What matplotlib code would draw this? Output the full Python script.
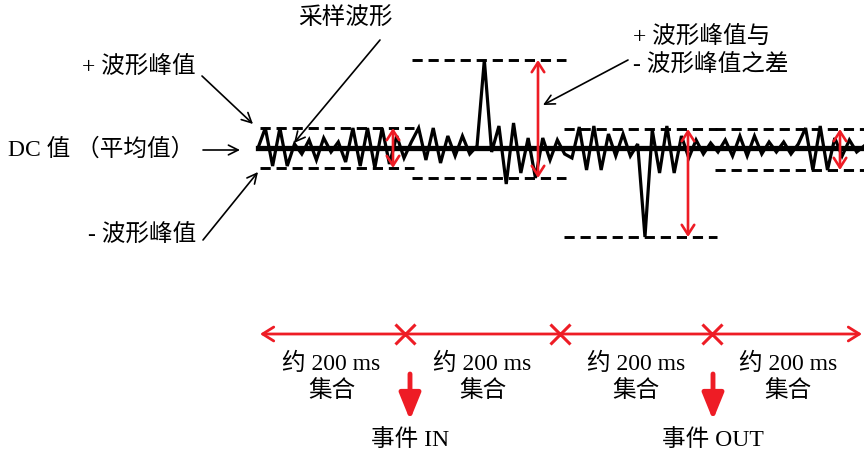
import numpy as np
import matplotlib.pyplot as plt

plt.rcParams['font.family'] = ['Liberation Serif', 'Noto Sans CJK SC', 'DejaVu Sans']

# waveform amplitude (pixels above the DC line), four ~200 ms blocks
seg1 = [0, 20, -18, 20, -18, 4, -6, 8, -12, 10, -4, 6, -14, 20, -18, 20, -20, 20, -16, 12, -10, 6]
seg2 = [20, -12, 20, -15, 12, -8, 12, -6, 2, 88, -4, 22, -36, 25, -25, 10, -30, 10, -12, 8, -6]
seg3 = [-10, 21, -22, 22, -22, 14, -8, 14, -8, 4, -89, 18, -25, 22, -25, 12, -10, 8, -6, 5, -4]
seg4 = [8, -8, 12, -8, 12, -6, 6, -4, 6, -6, 4, 20, -22, 22, -22, 10, -8, 8, -4, 2]
wave = np.array(seg1 + seg2 + seg3 + seg4, dtype=float)

# per-block peak levels and where the red span arrows sit
block_edges = [258, 410, 562, 713, 864]
pos_peak = [20, 88, 19, 19]
neg_peak = [-20, -30, -89, -22]
span_x = [393, 538, 688, 840]

# time axis
tick_x = [405, 560, 712]
block_line1 = ['约 200 ms'] * 4
block_line2 = ['集合'] * 4
event_x = [410, 713]
event_label = ['事件 IN', '事件 OUT']

DC_Y = 148
W, H = 864, 454

fig = plt.figure(figsize=(W / 100, H / 100), dpi=100)
ax = fig.add_axes([0, 0, 1, 1])
ax.set_xlim(0, W)
ax.set_ylim(H, 0)
ax.axis('off')

# waveform + DC line
xs = np.linspace(block_edges[0], block_edges[-1], len(wave))
ax.plot(xs, DC_Y - wave, color='black', lw=2.3, solid_joinstyle='miter', zorder=3)
ax.plot([block_edges[0], block_edges[-1]], [DC_Y, DC_Y], color='black', lw=3.8, zorder=4)

# peak dashed lines and red span arrows
for i in range(4):
    x0, x1 = block_edges[i], block_edges[i + 1]
    for lvl in (pos_peak[i], neg_peak[i]):
        ax.plot([x0 + 2, x1 + 4], [DC_Y - lvl, DC_Y - lvl], color='black', lw=2.1,
                dashes=(3.5, 2), zorder=2)
    ax.annotate('', xy=(span_x[i], DC_Y - pos_peak[i]), xytext=(span_x[i], DC_Y - neg_peak[i]),
                arrowprops=dict(arrowstyle='<->,head_length=0.7,head_width=0.45',
                                color='#ee1c25', lw=1.9, shrinkA=0, shrinkB=0), zorder=5)

# black callouts
arrow_kw = dict(arrowstyle='->,head_length=0.7,head_width=0.35', color='black', lw=1.2,
                shrinkA=0, shrinkB=0)
fs = 17
ax.text(196, 68, '+ 波形峰值', ha='right', va='center', fontsize=fs)
ax.annotate('', xy=(253, 124), xytext=(202, 76), arrowprops=arrow_kw)
ax.text(8, 149, 'DC 值 （平均值）', ha='left', va='center', fontsize=fs)
ax.annotate('', xy=(240, 150), xytext=(203, 150), arrowprops=arrow_kw)
ax.text(196, 236, '- 波形峰值', ha='right', va='center', fontsize=fs)
ax.annotate('', xy=(258, 172), xytext=(203, 240), arrowprops=arrow_kw)
ax.text(345, 19, '采样波形', ha='center', va='center', fontsize=fs)
ax.annotate('', xy=(294, 143), xytext=(380, 40), arrowprops=arrow_kw)
ax.text(633, 38, '+ 波形峰值与', ha='left', va='center', fontsize=fs)
ax.text(633, 66, '- 波形峰值之差', ha='left', va='center', fontsize=fs)
ax.annotate('', xy=(543, 105), xytext=(628, 60), arrowprops=arrow_kw)

# time axis with block marks
TL_Y = 334
ax.annotate('', xy=(block_edges[0] + 2, TL_Y), xytext=(block_edges[-1] - 2, TL_Y),
            arrowprops=dict(arrowstyle='<->,head_length=0.8,head_width=0.5',
                            color='#ee1c25', lw=2, shrinkA=0, shrinkB=0))
ax.plot(tick_x, [TL_Y] * len(tick_x), linestyle='none', marker='x', markersize=14,
        mew=2.2, color='#ee1c25')
centers = [(a + b) / 2 for a, b in zip([block_edges[0]] + tick_x, tick_x + [block_edges[-1]])]
for cx, l1, l2 in zip(centers, block_line1, block_line2):
    ax.text(cx, 364, l1, ha='center', va='center', fontsize=fs)
    ax.text(cx, 391, l2, ha='center', va='center', fontsize=fs)

for ex, lab in zip(event_x, event_label):
    ax.annotate('', xy=(ex, 420), xytext=(ex, 374),
                arrowprops=dict(arrowstyle='-|>,head_length=1.6,head_width=0.65',
                                color='#ee1c25', lw=3.5, shrinkA=0, shrinkB=0))
    ax.text(ex, 440, lab, ha='center', va='center', fontsize=fs)

fig.savefig('out.png', dpi=100)
